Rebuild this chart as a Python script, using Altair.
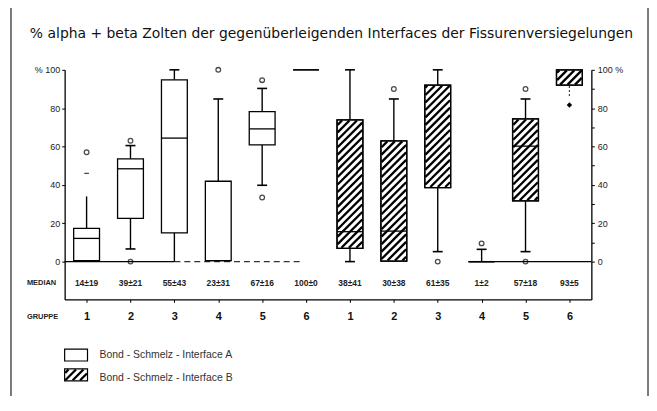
import math
import altair as alt
import pandas as pd

# ---------------- data ----------------
group_labels = ["1", "2", "3", "4", "5", "6", "1", "2", "3", "4", "5", "6"]
interface = ["A"] * 6 + ["B"] * 6
whisker_low = [0, 6.6, 0, 0, 39.8, 100, 0, 0.3, 5.2, 0, 5.2, 86.5]
quart1 = [0.5, 22.5, 15, 0.5, 60.9, 100, 6.9, 0.3, 38.6, 0, 31.7, 92]
medians = [12.1, 48.4, 64.4, 0.5, 69.2, 100, 15.6, 15.9, None, 0, 60.2, None]
quart3 = [17.3, 53.6, 94.8, 41.9, 78.2, 100, 73.9, 63, 92, 0, 74.4, 100]
whisker_high = [34, 60.5, 100, 84.8, 90.3, 100, 100, 84.8, 100, 6.4, 84.8, 100]
cap_low = [False, True, False, False, True, False, True, False, True, False, True, False]
cap_high = [False, True, True, True, True, False, True, True, True, True, True, False]
low_dotted = [False] * 11 + [True]
mean_sd = ["14±19", "39±21", "55±43", "23±31", "67±16", "100±0",
           "38±41", "30±38", "61±35", "1±2", "57±18", "93±5"]

outlier_box = [0, 0, 1, 1, 3, 4, 4, 7, 8, 9, 10, 10]
outlier_value = [57, 46, 63, 0, 100, 94.6, 33.4, 90, 0, 9.5, 90, 0]
outlier_shape = ["circle", "stroke", "circle", "circle", "circle", "circle",
                 "circle", "circle", "circle", "circle", "circle", "circle"]
filled_box = [11]
filled_value = [81.7]

zero_from = [-0.5, 2.0, 8.7]
zero_to = [2.0, 4.9, 11.5]
zero_dashed = [False, True, False]

title_text = "% alpha + beta Zolten der gegenüberleigenden Interfaces der Fissurenversiegelungen"
legend_a = "Bond - Schmelz - Interface A"
legend_b = "Bond - Schmelz - Interface B"

# ---------------- layout constants ----------------
W, H = 530, 231
YMIN = -19.7
SX = W / 12.0
SY = H / (100 - YMIN)
HW = 13.0          # half box width in px
CAP = 5.0          # half cap width in px
PERIOD = 7.5       # hatch period in px

idx = list(range(12))
boxes = pd.DataFrame({
    "idx": idx, "grp": group_labels, "iface": interface,
    "lo": whisker_low, "q1": quart1, "med": medians, "q3": quart3, "hi": whisker_high,
    "xl": [i - HW / SX for i in idx], "xr": [i + HW / SX for i in idx],
    "txt": mean_sd,
})

wh_rows = []
for i in idx:
    wh_rows.append({"idx": i, "a": quart3[i], "b": whisker_high[i], "dot": False})
    wh_rows.append({"idx": i, "a": whisker_low[i], "b": quart1[i], "dot": low_dotted[i]})
whiskers = pd.DataFrame(wh_rows)

cap_rows = []
for i in idx:
    if cap_high[i]:
        cap_rows.append({"xl": i - CAP / SX, "xr": i + CAP / SX, "v": whisker_high[i]})
    if cap_low[i]:
        cap_rows.append({"xl": i - CAP / SX, "xr": i + CAP / SX, "v": whisker_low[i]})
caps = pd.DataFrame(cap_rows)

med_df = boxes[boxes["med"].notna()]
b_boxes = boxes[boxes["iface"] == "B"]

outliers = pd.DataFrame({"idx": outlier_box, "v": outlier_value, "shape": outlier_shape})
filled = pd.DataFrame({"idx": filled_box, "v": filled_value})
zero_df = pd.DataFrame({"a": zero_from, "b": zero_to, "dash": zero_dashed, "v": [0, 0, 0]})


def hatch(x0, x1, y0, y1, period):
    segs = []
    k_lo = int(math.floor((y0 - x1) / period)) - 1
    k_hi = int(math.ceil((y1 - x0) / period)) + 1
    for k in range(k_lo, k_hi + 1):
        c = k * period
        lo = max(x0, y0 - c)
        hi = min(x1, y1 - c)
        if hi - lo > 0.4:
            segs.append((lo, lo + c, hi, hi + c))
    return segs


hrows = []
for i in idx[6:]:
    y0, y1 = quart1[i] * SY, quart3[i] * SY
    if y1 - y0 < 2:
        continue
    for (xa, ya, xb, yb) in hatch(-HW + 0.6, HW - 0.6, y0 + 0.6, y1 - 0.6, PERIOD):
        hrows.append({"x": i + xa / SX, "y": ya / SY, "x2": i + xb / SX, "y2": yb / SY})
hatch_df = pd.DataFrame(hrows)

# ---------------- encodings ----------------
FONT = "Liberation Sans"
xscale = alt.Scale(domain=[-0.5, 11.5], nice=False, zero=False)
yscale = alt.Scale(domain=[YMIN, 100], nice=False, zero=False)
xaxis = alt.Axis(values=idx, labelExpr="'' + ((datum.value % 6) + 1)", title=None,
                 tickSize=3, labelFontSize=11, labelFontWeight="bold", labelPadding=8,
                 domainColor="black", tickColor="black", labelColor="#111",
                 domainWidth=1.3, labelFont=FONT, grid=False)
left_axis = alt.Axis(values=[0, 20, 40, 60, 80, 100],
                     labelExpr="datum.value == 100 ? '%  100' : datum.label",
                     title=None, tickSize=3, labelFontSize=9, labelPadding=2,
                     domainColor="black", tickColor="black", labelColor="#222",
                     domainWidth=1.3, labelFont=FONT, grid=False, orient="left")
right_axis = alt.Axis(values=list(range(0, 101, 10)),
                      labelExpr="datum.value % 20 != 0 ? '' : (datum.value == 100 ? '100  %' : datum.label)",
                      title=None, tickSize=3, labelFontSize=9, labelPadding=3,
                      domainColor="black", tickColor="black", labelColor="#222",
                      domainWidth=1.3, labelFont=FONT, grid=False, orient="right")


def X(field):
    return alt.X(field, type="quantitative", scale=xscale, axis=xaxis)


def Y(field, axis=None):
    return alt.Y(field, type="quantitative", scale=yscale, axis=axis)


layers = []

# zero line pieces
layers.append(alt.Chart(zero_df[~zero_df["dash"]]).mark_rule(color="black", strokeWidth=1.3).encode(
    x=X("a"), x2="b", y=Y("v")))
layers.append(alt.Chart(zero_df[zero_df["dash"]]).mark_rule(color="#333", strokeWidth=1.2, strokeDash=[6, 4]).encode(
    x=X("a"), x2="b", y=Y("v")))

# whiskers
layers.append(alt.Chart(whiskers[~whiskers["dot"]]).mark_rule(color="black", strokeWidth=1.4).encode(
    x=X("idx"), y=Y("a", left_axis), y2="b"))
layers.append(alt.Chart(whiskers[whiskers["dot"]]).mark_rule(color="black", strokeWidth=1.2, strokeDash=[1.5, 2.5]).encode(
    x=X("idx"), y=Y("a"), y2="b"))
# caps
layers.append(alt.Chart(caps).mark_rule(color="black", strokeWidth=1.6).encode(
    x=X("xl"), x2="xr", y=Y("v")))
# boxes
layers.append(alt.Chart(boxes).mark_rect(fill="white", stroke="black", strokeWidth=1.3).encode(
    x=X("xl"), x2="xr", y=Y("q1", right_axis), y2="q3"))
# hatch
layers.append(alt.Chart(hatch_df).mark_rule(color="black", strokeWidth=2.3, strokeCap="butt").encode(
    x=X("x"), x2="x2", y=Y("y"), y2="y2"))
layers.append(alt.Chart(b_boxes).mark_rect(fill="white", fillOpacity=0, stroke="black", strokeWidth=1.3).encode(
    x=X("xl"), x2="xr", y=Y("q1"), y2="q3"))
# medians
layers.append(alt.Chart(med_df).mark_rule(color="black", strokeWidth=1.3).encode(
    x=X("xl"), x2="xr", y=Y("med")))
# outliers
layers.append(alt.Chart(outliers).mark_point(filled=False, color="black", size=22, strokeWidth=1.3).encode(
    x=X("idx"), y=Y("v"), shape=alt.Shape("shape:N", scale=None)))
layers.append(alt.Chart(filled).mark_point(filled=True, color="black", size=30, shape="diamond", opacity=1).encode(
    x=X("idx"), y=Y("v")))
# mean ± sd row
layers.append(alt.Chart(boxes).mark_text(fontSize=8.5, fontWeight="bold", font=FONT, color="#222").encode(
    x=X("idx"), y=alt.value(215), text="txt:N"))

one = pd.DataFrame({"k": [0]})
# row labels
layers.append(alt.Chart(one).mark_text(fontSize=7.5, fontWeight="bold", font=FONT, align="left", color="#222").encode(
    x=alt.value(-38), y=alt.value(215), text=alt.value("MEDIAN")))
layers.append(alt.Chart(one).mark_text(fontSize=7.5, fontWeight="bold", font=FONT, align="left", color="#222").encode(
    x=alt.value(-38), y=alt.value(249), text=alt.value("GRUPPE")))
# title
layers.append(alt.Chart(one).mark_text(fontSize=14, font="DejaVu Sans", align="left", baseline="middle", color="#111").encode(
    x=alt.value(-35), y=alt.value(-36), text=alt.value(title_text)))
# frame
layers.append(alt.Chart(one).mark_rule(color="#333", strokeWidth=1.3).encode(
    x=alt.value(-54), x2=alt.value(587), y=alt.value(-64)))
layers.append(alt.Chart(one).mark_rule(color="#333", strokeWidth=1.3).encode(
    x=alt.value(-54), y=alt.value(-64), y2=alt.value(330)))
layers.append(alt.Chart(one).mark_rule(color="#333", strokeWidth=1.3).encode(
    x=alt.value(587), y=alt.value(-64), y2=alt.value(330)))
# legend
layers.append(alt.Chart(one).mark_rect(fill="white", stroke="black", strokeWidth=1.2).encode(
    x=alt.value(0), x2=alt.value(23), y=alt.value(281), y2=alt.value(293)))
LB_TOP, LB_BOT = 301, 313
for (xa, ya, xb, yb) in hatch(0.6, 22.4, 0.6, (LB_BOT - LB_TOP) - 0.6, PERIOD):
    layers.append(alt.Chart(one).mark_rule(color="black", strokeWidth=2.3, strokeCap="butt").encode(
        x=alt.value(xa), y=alt.value(LB_BOT - ya), x2=alt.value(xb), y2=alt.value(LB_BOT - yb)))
layers.append(alt.Chart(one).mark_rect(fill="white", fillOpacity=0, stroke="black", strokeWidth=1.2).encode(
    x=alt.value(0), x2=alt.value(23), y=alt.value(LB_TOP), y2=alt.value(LB_BOT)))
layers.append(alt.Chart(one).mark_text(fontSize=10.5, font=FONT, align="left", baseline="middle", color="#333").encode(
    x=alt.value(35), y=alt.value(287), text=alt.value(legend_a)))
layers.append(alt.Chart(one).mark_text(fontSize=10.5, font=FONT, align="left", baseline="middle", color="#333").encode(
    x=alt.value(35), y=alt.value(310), text=alt.value(legend_b)))

chart = alt.layer(*layers).resolve_axis(y="independent").properties(
    width=W, height=H,
    autosize=alt.AutoSizeParams(type="none"),
    padding={"left": 57, "top": 61, "right": 58, "bottom": 96},
    background="white",
).configure_view(stroke=None)

chart.save("out.html", embed_options={"renderer": "svg", "actions": False})
